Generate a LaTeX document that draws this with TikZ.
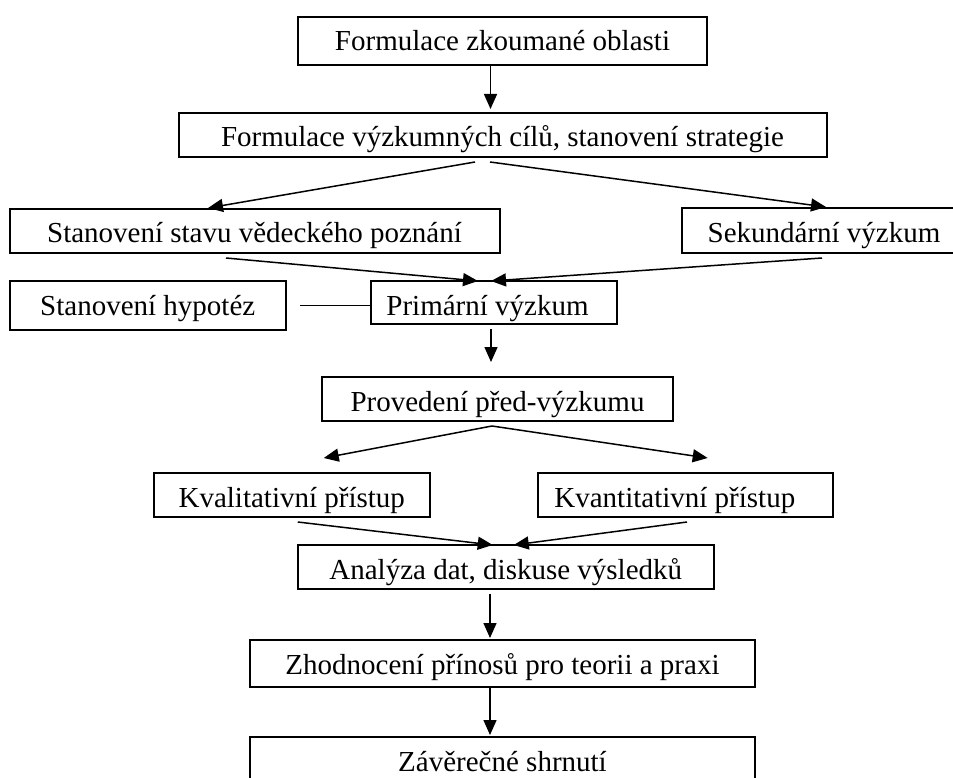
\documentclass[tikz,border=0pt]{standalone}
\usepackage{fontspec}
\setmainfont{Liberation Serif}
\usetikzlibrary{arrows.meta}
\newcommand{\boxfont}{\fontsize{29}{34}\selectfont}
\begin{document}
\begin{tikzpicture}[x=1pt,y=-1pt,
    box/.style={draw,line width=2pt,inner sep=0pt,anchor=north west,font=\boxfont},
    arr/.style={-{Triangle[length=15pt,width=13pt]},line width=1.5pt}]
            \useasboundingbox (0,0) rectangle (953,778);
            \node[box,minimum width=409pt,minimum height=48pt,text height=34pt,text depth=14pt] (oblast) at (297,16) {Formulace zkoumané oblasti};
            \node[box,minimum width=648pt,minimum height=44pt,text height=34pt,text depth=10pt] (cile) at (177.5,112) {Formulace výzkumných cílů, stanovení strategie};
            \node[box,minimum width=490pt,minimum height=44pt,text height=33pt,text depth=11pt] (stav) at (8.5,208) {Stanovení stavu vědeckého poznání};
            \node[box,minimum width=284pt,minimum height=45pt,text height=35pt,text depth=10pt] (sekund) at (681,207) {Sekundární výzkum};
            \node[box,minimum width=276.5pt,minimum height=49pt,text height=34pt,text depth=15pt] (hypotezy) at (8.5,280) {Stanovení hypotéz};
            \node[box,minimum width=246pt,minimum height=43pt,text height=34pt,text depth=9pt] (primarni) at (370,280) {Primární výzkum\hspace*{13pt}};
            \node[box,minimum width=351pt,minimum height=44pt,text height=34pt,text depth=10pt] (predvyzkum) at (321,376) {Provedení před-výzkumu};
            \node[box,minimum width=275.5pt,minimum height=44pt,text height=34.5pt,text depth=9.5pt] (kvalit) at (153,472) {Kvalitativní přístup};
            \node[box,minimum width=294.6pt,minimum height=44pt,text height=34.5pt,text depth=9.5pt] (kvantit) at (537,472) {Kvantitativní přístup\hspace*{21pt}};
            \node[box,minimum width=415.5pt,minimum height=44pt,text height=34pt,text depth=10pt] (analyza) at (297,544) {Analýza dat, diskuse výsledků};
            \node[box,minimum width=505pt,minimum height=47pt,text height=34pt,text depth=13pt] (prinos) at (249,639) {Zhodnocení přínosů pro teorii a praxi};
            \node[box,minimum width=505pt,minimum height=54pt,text height=34pt,text depth=20pt] (shrnuti) at (249,736) {Závěrečné shrnutí};
            \draw[arr] ([xshift=-12pt]oblast.south)--([xshift=-12pt,yshift=3pt]cile.north);
            \draw[arr] ([xshift=-27.5pt,yshift=-4pt]cile.south)--([xshift=-46.5pt]stav.north);
            \draw[arr] ([xshift=-12.5pt,yshift=-4pt]cile.south)--([xshift=2pt]sekund.north);
            \draw[arr] ([xshift=-28.5pt,yshift=-4pt]stav.south)--([xshift=-16pt,yshift=-1pt]primarni.north);
            \draw[arr] ([xshift=-2pt,yshift=-4pt]sekund.south)--([xshift=-3pt,yshift=-1pt]primarni.north);
            \draw[line width=1.5pt] ([xshift=13pt]hypotezy.east)--(hypotezy.east -| primarni.west);
            \draw[arr] ([xshift=-3pt,yshift=-4pt]primarni.south)--([xshift=-6.5pt,yshift=14pt]predvyzkum.north);
            \draw[arr] ([xshift=-5.5pt,yshift=-4pt]predvyzkum.south)--([xshift=32pt,yshift=14pt]kvalit.north);
            \draw[arr] ([xshift=-5.5pt,yshift=-4pt]predvyzkum.south)--([xshift=22.4pt,yshift=14pt]kvantit.north);
            \draw[arr] ([xshift=6pt,yshift=-4pt]kvalit.south)--([xshift=-13pt,yshift=-1pt]analyza.north);
            \draw[arr] ([xshift=1.7pt,yshift=-4pt]kvantit.south)--([xshift=8pt,yshift=-1pt]analyza.north);
            \draw[arr] ([xshift=-15.75pt,yshift=-4pt]analyza.south)--([xshift=-12.5pt,yshift=1pt]prinos.north);
            \draw[arr] ([xshift=-12.5pt]prinos.south)--([xshift=-12.5pt,yshift=1pt]shrnuti.north);
        \end{tikzpicture}
\end{document}
